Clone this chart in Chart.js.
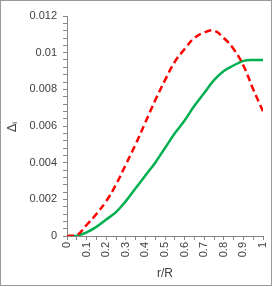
<!DOCTYPE html>
<html>
<head>
<meta charset="utf-8">
<script src="https://cdn.jsdelivr.net/npm/chart.js@4/dist/chart.umd.min.js"></script>
<style>
html,body{margin:0;padding:0;background:#fff;}
#wrap{width:273px;height:287px;position:relative;}
</style>
</head>
<body>
<div id="wrap"><canvas id="c" width="273" height="287"></canvas></div>
<script>
const rValues = [0,0.05,0.1,0.15,0.2,0.25,0.3,0.35,0.4,0.45,0.5,0.55,0.6,0.65,0.7,0.75,0.8,0.85,0.9,0.95,1.0];
const redDashed = [0,0.00005,0.0006,0.0012,0.0019,0.0028,0.0039,0.0050,0.0062,0.0074,0.0085,0.0095,0.0102,0.0108,0.0111,0.0112,0.0108,0.0102,0.0093,0.0080,0.0068];
const greenSolid = [0,0.00002,0.0002,0.0005,0.0009,0.0013,0.0019,0.0026,0.0033,0.0040,0.0048,0.0056,0.0063,0.0071,0.0078,0.0085,0.0090,0.0093,0.00955,0.0096,0.0096];
const xTickLabels = [0,0.1,0.2,0.3,0.4,0.5,0.6,0.7,0.8,0.9,1];
const yTickLabels = [0,0.002,0.004,0.006,0.008,0.01,0.012];
const xTitle = 'r/R';
const yTitleMain = 'Δ';
const yTitleSub = 'i';

const FONT = '"Liberation Sans", Arial, sans-serif';
const AXIS = '#868686';

function subdivide(major, n){
  const out=[];
  for(let i=0;i<major.length;i++){
    out.push({value:major[i]});
    if(i<major.length-1){
      for(let k=1;k<n;k++) out.push({value: major[i]+(major[i+1]-major[i])*k/n});
    }
  }
  return out;
}
function labelFor(v, arr){
  for(const a of arr){ if(Math.abs(a-v)<1e-9) return String(a); }
  return '';
}

const framePlugin = {
  id:'frame',
  beforeDraw(chart){
    const ctx=chart.ctx;
    ctx.save();
    ctx.fillStyle='#fff';
    ctx.fillRect(0,0,chart.width,chart.height);
    ctx.restore();
  },
  afterDraw(chart){
    const ctx=chart.ctx;
    ctx.save();
    ctx.strokeStyle='#9a9a9a';
    ctx.lineWidth=1;
    ctx.strokeRect(0.5,0.5,271,285);
    // axis titles
    ctx.fillStyle='#404040';
    ctx.font='12px '+FONT;
    ctx.textAlign='center';
    ctx.textBaseline='middle';
    const ca=chart.chartArea;
    ctx.fillText(xTitle,(ca.left+ca.right)/2,274);
    ctx.translate(12,(ca.top+ca.bottom)/2+1);
    ctx.rotate(-Math.PI/2);
    ctx.textAlign='left';
    ctx.font='13px '+FONT;
    const w=ctx.measureText(yTitleMain).width;
    ctx.fillText(yTitleMain,-w/2-1,0);
    ctx.font='8px '+FONT;
    ctx.fillText(yTitleSub,w/2-1,3);
    ctx.restore();
  }
};

const data = {
  datasets:[
    {
      label:'red',
      data: rValues.map((x,i)=>({x:x,y:redDashed[i]})),
      borderColor:'#ff0000',
      borderWidth:2.5,
      borderDash:[7,4],
      pointRadius:0,
      fill:false,
      tension:0.4,
      order:1
    },
    {
      label:'green',
      data: rValues.map((x,i)=>({x:x,y:greenSolid[i]})),
      borderColor:'#00b050',
      borderWidth:2.5,
      pointRadius:0,
      fill:false,
      tension:0.4,
      order:2
    }
  ]
};

new Chart(document.getElementById('c'),{
  type:'line',
  data:data,
  plugins:[framePlugin],
  options:{
    responsive:false,
    animation:false,
    layout:{padding:{left:0,right:10,top:16,bottom:0}},
    plugins:{legend:{display:false},tooltip:{enabled:false}},
    scales:{
      x:{
        type:'linear',
        min:0,max:1,
        afterBuildTicks(s){ s.ticks = subdivide(xTickLabels,2); },
        afterFit(s){ s.height = 287-236; s.paddingLeft=0; s.paddingRight=0; },
        grid:{drawOnChartArea:false,drawTicks:true,tickLength:4,color:AXIS},
        border:{color:AXIS,width:1},
        ticks:{
          autoSkip:false,
          minRotation:90,maxRotation:90,
          padding:2,
          color:'#404040',
          font:{family:FONT,size:11},
          callback(v){ return labelFor(v,xTickLabels); }
        }
      },
      y:{
        type:'linear',
        min:0,max:0.012,
        afterBuildTicks(s){ s.ticks = subdivide(yTickLabels,5); },
        afterFit(s){ s.width = 67; s.paddingTop=0; s.paddingBottom=0; },
        grid:{drawOnChartArea:false,drawTicks:true,tickLength:4,color:AXIS},
        border:{color:AXIS,width:1},
        ticks:{
          autoSkip:false,
          padding:6,
          color:'#404040',
          font:{family:FONT,size:11},
          callback(v){ return labelFor(v,yTickLabels); }
        }
      }
    }
  }
});
</script>
</body>
</html>
